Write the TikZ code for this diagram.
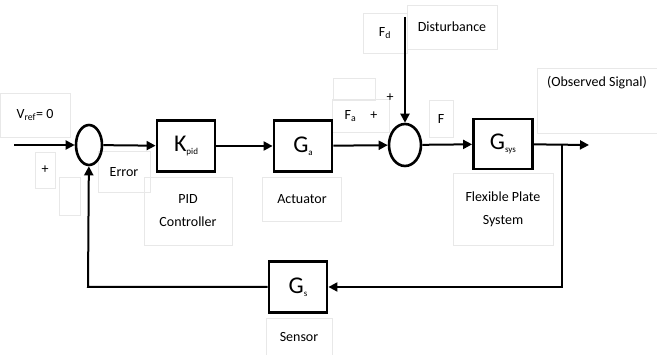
\documentclass[tikz,border=0pt]{standalone}
\usepackage{fontspec}
\setmainfont{Carlito}
\usetikzlibrary{arrows.meta,shapes.geometric}
\newcommand{\lowsub}[1]{\raisebox{-.25ex}{\fontsize{9}{10}\selectfont #1}}

\begin{document}
\begin{tikzpicture}
[x=1pt,y=-1pt]
\tikzset{blk/.style={draw,line width=2.8pt,minimum width=58pt,minimum height=51pt,font=\fontsize{24}{26}\selectfont}}
\tikzset{sumj/.style={ellipse,draw,line width=2.6pt,inner sep=0pt}}
\tikzset{lbl/.style={draw=black!9,line width=.6pt,inner sep=0pt,font=\fontsize{14}{17}\selectfont,align=center}}
\tikzset{sig/.style={line width=2pt,-{Triangle[length=9pt,width=9pt]}}}
\useasboundingbox (0,0) rectangle (657,355);

% labels
\node [lbl,minimum width=70pt,minimum height=44pt] (vref) at (35,115) {V\textsubscript{ref}= 0};
\node [lbl,minimum width=20pt,minimum height=36pt] (p1) at (45,170) {+};
\node [lbl,minimum width=21pt,minimum height=38pt] (m1) at (70,196) {};
\node [lbl,minimum width=52pt,minimum height=41pt] (err) at (124,172) {Error};
\node [lbl,minimum width=88pt,minimum height=68pt] (pidl) at (188,211) {PID\\[6pt]Controller};
\node [lbl,minimum width=79pt,minimum height=44pt] (actl) at (302,199) {Actuator};
\node [lbl,minimum width=44pt,minimum height=40pt] (fd) at (385,33) {F\textsubscript{d}};
\node [lbl,minimum width=90pt,minimum height=44pt] (dist) at (452,27) {Disturbance};
\node [lbl,minimum width=42pt,minimum height=22pt] (p2) at (354,89) {};
\node [lbl,minimum width=57pt,minimum height=33pt] (fa) at (361,116) {F\textsubscript{a}\hspace{14pt}+};
\node [font=\fontsize{14}{17}\selectfont] (p3) at (390,98) {+};
\node [lbl,minimum width=24pt,minimum height=37pt] (f) at (441,119) {F};
\node [lbl,minimum width=120pt,minimum height=65pt] (obs) at (597,101) {(Observed Signal)\\[22pt]};
\node [lbl,minimum width=100pt,minimum height=72pt] (fps) at (503,209) {Flexible Plate\\[6pt]System};
\node [lbl,minimum width=66pt,minimum height=37pt] (senl) at (299,337) {Sensor};

% blocks
\node [sumj,minimum width=26pt,minimum height=40pt] (s1) at (89,145) {};
\node [blk] (kpid) at (186,146) {K\lowsub{pid}};
\node [blk] (ga) at (303,146) {G\lowsub{a}};
\node [sumj,minimum width=32pt,minimum height=42pt] (s2) at (405,145) {};
\node [blk,minimum width=59pt,minimum height=50pt] (gsys) at (503,144) {G\lowsub{sys}};
\node [blk] (gs) at (298,287) {G\lowsub{s}};

\coordinate (in) at (14,145);
\coordinate (dtop) at (405,17);
\coordinate (br) at (562,145);
\coordinate (out) at (589,145);
\coordinate (c1) at (562,287);
\coordinate (c2) at (88,287);

\foreach \from/\to in {in/s1,s1/kpid,kpid/ga,ga/s2,dtop/s2,s2/gsys,gsys/out}
	\draw [sig] (\from) -- (\to);
\draw [sig] (br) -- (c1) -- (gs);
\draw [sig] (gs) -- (c2) -- (s1);

\end{tikzpicture}
\end{document}
